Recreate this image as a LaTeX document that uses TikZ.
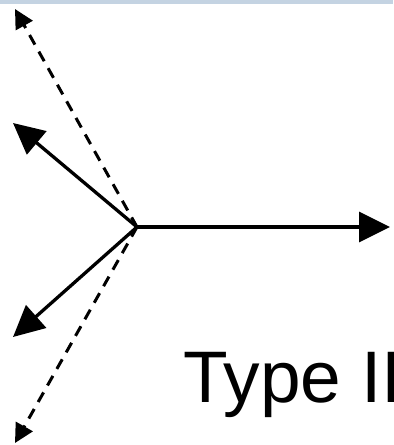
\documentclass[tikz,border=0pt]{standalone}
\usepackage{fontspec}
\setmainfont{Liberation Sans}
\usepackage{xcolor}
\usetikzlibrary{arrows.meta}
\usetikzlibrary{positioning}
\definecolor{banda}{RGB}{196,211,226}

\begin{document}
\begin{tikzpicture}[x=1bp, y=-1bp]
\tikzstyle{flecha}=[
    line width=3.3bp,
    -{Triangle[length=31bp, width=30bp]}
]
\tikzstyle{flechapunteada}=[
    line width=3bp,
    dash pattern=on 11bp off 8bp,
    -{Triangle[length=19bp, width=19bp]}
]
\useasboundingbox (0,0) rectangle (393,445);

% Banda superior
\fill[banda] (0,0) rectangle (393,4);

% Nodos
\coordinate (c) at (137,227);
\coordinate (d) at (390,227);
\coordinate (ai) at (13,123);
\coordinate (bi) at (13,337);
\coordinate (pa) at (15,9);
\coordinate (pb) at (15,443);

% Flechas solidas
\draw[flecha] (c) -- (d);
\draw[flecha] (c) -- (ai);
\draw[flecha] (c) -- (bi);

% Flechas punteadas
\draw[flechapunteada] (c) -- (pa);
\draw[flechapunteada] (c) -- (pb);

\node[anchor=base west, inner sep=0pt, font=\fontsize{73bp}{80bp}\selectfont] (tipo) at (183,402) {Type II};
\end{tikzpicture}
\end{document}
